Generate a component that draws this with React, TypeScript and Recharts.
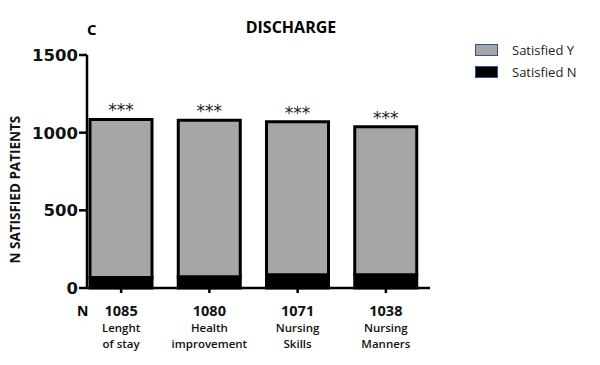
import { BarChart, Bar, XAxis, YAxis, LabelList } from "recharts";

const CATEGORIES = ["Lenght\nof stay", "Health\nimprovement", "Nursing\nSkills", "Nursing\nManners"];
const TOTALS = [1085, 1080, 1071, 1038];
const SATISFIED_N = [68, 73, 86, 86];
const SATISFIED_Y = TOTALS.map((t, i) => t - SATISFIED_N[i]);
const Y_TICKS = [0, 500, 1000, 1500];

const data = CATEGORIES.map((name, i) => ({
  name,
  total: TOTALS[i],
  yes: SATISFIED_Y[i],
  no: SATISFIED_N[i],
}));

const AXIS_FONT = "'DejaVu Sans', sans-serif";
const TEXT_FONT = "'Open Sans', 'Liberation Sans', sans-serif";

function CategoryTick(props: any) {
  const { x, y, payload, index } = props;
  const lines = String(payload.value).split("\n");
  return (
    <g>
      <text x={x} y={y + 21} textAnchor="middle" fontFamily={TEXT_FONT} fontWeight={700} fontSize={14.5} fill="#111">
        {TOTALS[index]}
      </text>
      {lines.map((l, k) => (
        <text key={k} x={x} y={y + 37 + k * 16} textAnchor="middle" fontFamily={TEXT_FONT} fontWeight={600} fontSize={11.5} fill="#111">
          {l}
        </text>
      ))}
    </g>
  );
}

function LegendBox() {
  const row = (fill: string, label: string) => (
    <div style={{ display: "flex", alignItems: "center", height: 22 }}>
      <div style={{ width: 21, height: 10, background: fill, border: "1.5px solid #2f5597", marginRight: 14 }} />
      <span style={{ fontFamily: TEXT_FONT, fontSize: 13, color: "#222" }}>{label}</span>
    </div>
  );
  return (
    <div style={{ position: "absolute", left: 475, top: 39 }}>
      {row("#a6a6a6", "Satisfied Y")}
      {row("#000", "Satisfied N")}
    </div>
  );
}

export default function App() {
  return (
    <div style={{ position: "absolute", left: 0, top: 0, width: 600, height: 365, background: "#fff" }}>
      <div style={{ position: "absolute", left: 87, top: 19, fontFamily: TEXT_FONT, fontWeight: 700, fontSize: 15 }}>C</div>
      <div style={{ position: "absolute", left: 0, width: 582, top: 16, textAlign: "center", fontFamily: TEXT_FONT, fontWeight: 700, fontSize: 16 }}>
        DISCHARGE
      </div>
      <div style={{ position: "absolute", left: 77, top: 301, fontFamily: TEXT_FONT, fontWeight: 700, fontSize: 14 }}>N</div>
      <LegendBox />
      <BarChart width={600} height={365} data={data} margin={{ top: 55, right: 170, bottom: 47, left: 12 }}>
        <XAxis
          dataKey="name"
          padding={{ left: -10, right: 0 }}
          axisLine={{ stroke: "#000", strokeWidth: 2.5 }}
          tickLine={{ stroke: "#000", strokeWidth: 2.5 }}
          tickSize={5}
          interval={0}
          tick={<CategoryTick />}
        />
        <YAxis
          width={75}
          domain={[0, 1500]}
          ticks={Y_TICKS}
          axisLine={{ stroke: "#000", strokeWidth: 2.5 }}
          tickLine={{ stroke: "#000", strokeWidth: 2.5 }}
          tickSize={8}
          tickMargin={1}
          tick={{ fontFamily: AXIS_FONT, fontWeight: 700, fontSize: 16.5, fill: "#111" }}
          label={{
            value: "N SATISFIED PATIENTS",
            angle: -90,
            position: "insideLeft",
            offset: 3,
            dy: 92,
            style: { fontFamily: TEXT_FONT, fontWeight: 700, fontSize: 13.5, fill: "#111", textAnchor: "start" },
          }}
        />
        <Bar dataKey="no" stackId="a" fill="#000" stroke="#000" strokeWidth={3} barSize={62} isAnimationActive={false} />
        <Bar dataKey="yes" stackId="a" fill="#a6a6a6" stroke="#000" strokeWidth={3} barSize={62} isAnimationActive={false}>
          <LabelList
            dataKey="total"
            position="top"
            offset={3}
            formatter={() => "***"}
            style={{ fontFamily: AXIS_FONT, fontSize: 17, fill: "#222" }}
          />
        </Bar>
      </BarChart>
    </div>
  );
}
